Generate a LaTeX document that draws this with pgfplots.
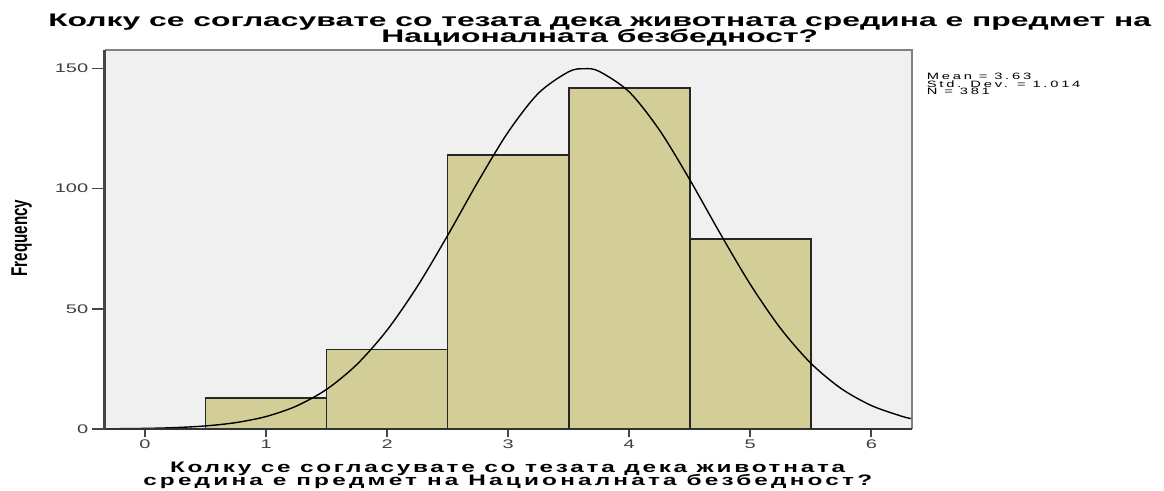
\documentclass[border=0pt]{standalone}
\usepackage{fontspec}
\setmainfont{Liberation Sans}
\newfontfamily\widefont[FakeStretch=1.6]{Liberation Sans}
\newfontfamily\titlefont[FakeStretch=1.75]{Liberation Sans}
\newfontfamily\spacedfont[FakeStretch=1.6,LetterSpace=18]{Liberation Sans}
\newfontfamily\statfont[FakeStretch=1.6,LetterSpace=30]{Liberation Sans}
\usepackage{graphicx}
\usepackage{pgfplots}
\pgfplotsset{compat=1.18}

\definecolor{barfill}{RGB}{211,206,152}
\definecolor{panel}{RGB}{240,240,240}
\definecolor{axisdark}{RGB}{70,70,70}
\definecolor{framegray}{RGB}{130,130,130}

\pgfplotsset{
  histframe/.style={
    at={(0,0)}, anchor=south west,
    scale only axis, width=807pt, height=379pt,
    xmin=-0.3333, xmax=6.3333, ymin=0, ymax=157.7,
    clip=false,
    axis line style={draw=none},
    tick align=outside,
    minor tick num=0,
    /pgf/number format/assume math mode=true,
    tick label style={font=\widefont\fontsize{12.5}{14}\selectfont, text=black!75},
  },
}

\begin{document}
\begin{tikzpicture}
\useasboundingbox (-104.7pt,-61pt) rectangle (1059.3pt,429pt);
% main panel: bars, curve, short x ticks
\begin{axis}[
  histframe,
  axis background/.style={fill=panel},
  xtick={0,...,6}, ytick=\empty,
  xtick pos=bottom,
  major tick length=8pt,
  xtick style={draw=axisdark, line width=2.2pt},
  xticklabel style={yshift=0.5pt},
]
  % histogram of the responses
  \addplot[ybar interval, fill=barfill, draw=black!85, line width=1.6pt]
    coordinates {(0.5,13) (1.5,33) (2.5,114) (3.5,142) (4.5,79) (5.5,79)};
  % fitted normal curve (mean 3.63, sd 1.014, N 381)
  \addplot[smooth, black, line width=1.4pt, mark=none] coordinates {
    (-0.333,0.07) (0,0.25) (0.25,0.58) (0.5,1.28) (0.75,2.66) (1,5.19)
    (1.25,9.54) (1.5,16.50) (1.75,26.87) (2,41.18) (2.25,59.38) (2.5,80.56)
    (2.75,102.87) (3,123.59) (3.25,139.73) (3.5,148.67) (3.63,149.9)
    (3.75,148.85) (4,140.25) (4.25,124.34) (4.5,103.73) (4.75,81.45)
    (5,60.18) (5.25,41.84) (5.5,27.37) (5.75,16.85) (6,9.76) (6.25,5.32)
    (6.333,4.29)};
  % frame
  \draw[framegray, line width=2.2pt] (rel axis cs:0,1) -- (rel axis cs:1,1) -- (rel axis cs:1,0);
  \draw[black!80, line width=2.2pt] (rel axis cs:0,0) -- (rel axis cs:1,0);
  \draw[axisdark, line width=3.3pt] (rel axis cs:0,0) -- (rel axis cs:0,1);
\end{axis}
% same frame again for the longer y ticks
\begin{axis}[
  histframe,
  xtick=\empty, ytick={0,50,100,150},
  ytick pos=left,
  major tick length=13pt,
  ytick style={draw=axisdark, line width=1.5pt},
]
\end{axis}

% title
\node[anchor=base, inner sep=0, font=\titlefont\bfseries\fontsize{18.2}{20}\selectfont]
  at (495pt,402pt) {Колку се согласувате со тезата дека животната средина е предмет на};
\node[anchor=base, inner sep=0, font=\titlefont\bfseries\fontsize{18.2}{20}\selectfont]
  at (495pt,386pt) {Националната безбедност?};

% x axis title
\node[anchor=base, inner sep=0, font=\spacedfont\bfseries\fontsize{15.2}{16}\selectfont]
  at (403pt,-43pt) {Колку се согласувате со тезата дека животната};
\node[anchor=base, inner sep=0, font=\spacedfont\bfseries\fontsize{15.2}{16}\selectfont\addfontfeature{LetterSpace=21}]
  at (403pt,-56.5pt) {средина е предмет на Националната безбедност?};

% y axis title
\node[rotate=90, inner sep=0, font=\bfseries\fontsize{15.2}{16}\selectfont]
  at (-83pt,191pt) {\scalebox{1}[1.5]{Frequency}};

% summary statistics
\node[anchor=base west, inner sep=0, font=\statfont\fontsize{9.2}{10}\selectfont]
  at (822pt,349pt) {Mean = 3.63};
\node[anchor=base west, inner sep=0, font=\statfont\fontsize{9.2}{10}\selectfont]
  at (822pt,341.6pt) {Std. Dev. = 1.014};
\node[anchor=base west, inner sep=0, font=\statfont\fontsize{9.2}{10}\selectfont]
  at (822pt,334.4pt) {N = 381};
\end{tikzpicture}
\end{document}
